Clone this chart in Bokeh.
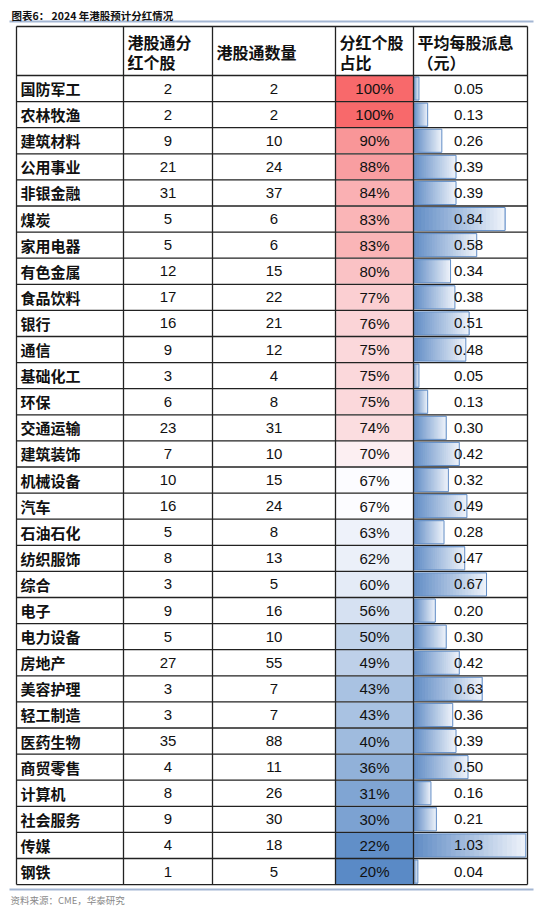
import numpy as np
from bokeh.plotting import figure
from bokeh.models import Range1d
from bokeh.core.properties import value
from bokeh.embed import file_html
from bokeh.resources import INLINE

# ---------------- data ----------------
industries = ["国防军工", "农林牧渔", "建筑材料", "公用事业", "非银金融", "煤炭", "家用电器",
              "有色金属", "食品饮料", "银行", "通信", "基础化工", "环保", "交通运输", "建筑装饰",
              "机械设备", "汽车", "石油石化", "纺织服饰", "综合", "电子", "电力设备", "房地产",
              "美容护理", "轻工制造", "医药生物", "商贸零售", "计算机", "社会服务", "传媒", "钢铁"]
div_count = [2, 2, 9, 21, 31, 5, 5, 12, 17, 16, 9, 3, 6, 23, 7, 10, 16, 5, 8, 3, 9, 5, 27,
             3, 3, 35, 4, 8, 9, 4, 1]
total_count = [2, 2, 10, 24, 37, 6, 6, 15, 22, 21, 12, 4, 8, 31, 10, 15, 24, 8, 13, 5, 16, 10, 55,
               7, 7, 88, 11, 26, 30, 18, 5]
pct = [100, 100, 90, 88, 84, 83, 83, 80, 77, 76, 75, 75, 75, 74, 70, 67, 67, 63, 62, 60, 56, 50, 49,
       43, 43, 40, 36, 31, 30, 22, 20]
avg_div = [0.05, 0.13, 0.26, 0.39, 0.39, 0.84, 0.58, 0.34, 0.38, 0.51, 0.48, 0.05, 0.13, 0.30, 0.42,
           0.32, 0.49, 0.28, 0.47, 0.67, 0.20, 0.30, 0.42, 0.63, 0.36, 0.39, 0.50, 0.16, 0.21, 1.03, 0.04]

headers = [["港股通分", "红个股"], ["港股通数量"], ["分红个股", "占比"], ["平均每股派息", "（元）"]]
title = "图表6：  2024 年港股预计分红情况"
source_note = "资料来源：CME，华泰研究"

# ---------------- layout ----------------
W, H = 550, 917
RH = 26.1              # row height (px)
ROW0 = 75              # top of first data row (px, page coords)
XB = [16, 123, 212, 335, 413, 527]   # column borders (page px)
PX_PER_UNIT = 109.0    # data bar scale


def py(pix):
    return (pix - ROW0) / RH


n = len(industries)
p = figure(width=W, height=H, output_backend="svg", toolbar_location=None,
           x_range=Range1d(0, W), y_range=Range1d(py(H), py(0)),
           min_border=0, outline_line_color=None, x_axis_type=None, y_axis_type=None)
p.grid.visible = False
p.background_fill_color = "white"
p.border_fill_color = "white"
p.extra_x_ranges = {"val": Range1d(-XB[4] / PX_PER_UNIT, (W - XB[4]) / PX_PER_UNIT)}

rows = np.arange(n)

# ---- 3-colour scale for percentage column ----
lo, mid, hi = min(pct), float(np.median(pct)), max(pct)
c_lo, c_mid, c_hi = np.array([90, 138, 198]), np.array([252, 252, 255]), np.array([248, 105, 107])


def scale_col(v):
    if v <= mid:
        t = (v - lo) / (mid - lo)
        c = c_lo + (c_mid - c_lo) * t
    else:
        t = (v - mid) / (hi - mid)
        c = c_mid + (c_hi - c_mid) * t
    return "#%02x%02x%02x" % tuple(int(round(x)) for x in c)


pct_colors = [scale_col(v) for v in pct]
p.quad(left=XB[3], right=XB[4], top=rows, bottom=rows + 1, fill_color=pct_colors,
       line_color="white", line_alpha=0.7, line_width=1)

# ---- gradient data bars (overlapping slices, no seams) ----
NS = 24
g0, g1 = np.array([99, 142, 198]), np.array([236, 241, 249])
bl, br, bt, bb, bc = [], [], [], [], []
for i, v in enumerate(avg_div):
    for k in range(NS):
        bl.append(v * k / NS)
        br.append(v)
        bt.append(i + 1.5 / RH)
        bb.append(i + 1 - 1.5 / RH)
        c = g0 + (g1 - g0) * (k / (NS - 1))
        bc.append("#%02x%02x%02x" % tuple(int(round(x)) for x in c))
p.quad(left=bl, right=br, top=bt, bottom=bb, fill_color=bc, line_color=None, x_range_name="val")
p.quad(left=0, right=avg_div, top=rows + 1.5 / RH, bottom=rows + 1 - 1.5 / RH,
       fill_color=None, line_color="#638EC6", line_width=1, x_range_name="val")

# ---- grid lines ----
hy = [py(26)] + list(range(0, n + 1))
p.segment(x0=XB[0], x1=XB[-1], y0=hy, y1=hy, line_color="#222222", line_width=1.3)
p.segment(x0=XB, x1=XB, y0=py(26), y1=n, line_color="#222222", line_width=1.3)

# ---- title and rules ----
p.segment(x0=9, x1=533, y0=[py(21), py(889)], y1=[py(21), py(889)], line_color="#A3B6D3", line_width=2)
p.text(x=[11], y=[py(15)], text=[title], text_font=value("Noto Sans CJK SC"), text_font_style="bold",
       text_font_size="10.5px", text_baseline="middle", text_align="left", text_color="#111111")
p.text(x=[10], y=[py(899)], text=[source_note], text_font=value("Noto Sans CJK SC"),
       text_font_size="9.5px", text_baseline="middle", text_align="left", text_color="#8a8a8a")

# ---- headers ----
hx, hyy, ht = [], [], []
for j, lines in enumerate(headers):
    x = XB[j + 1] + 4
    if len(lines) == 1:
        hx.append(x); hyy.append(py(51.5)); ht.append(lines[0])
    else:
        hx += [x, x]; hyy += [py(41.5), py(61.5)]; ht += lines
p.text(x=hx, y=hyy, text=ht, text_font=value("Noto Sans CJK SC"), text_font_style="bold",
       text_font_size="16px", text_baseline="middle", text_align="left", text_color="#111111")

# ---- cell texts ----
yc = rows + 0.5
p.text(x=XB[0] + 4, y=yc, text=industries, text_font=value("Noto Sans CJK SC"), text_font_style="bold",
       text_font_size="15px", text_baseline="middle", text_align="left", text_color="#111111")
num_style = dict(text_font=value("Liberation Sans"), text_font_size="15px", text_baseline="middle",
                 text_align="center", text_color="#111111")
p.text(x=(XB[1] + XB[2]) / 2, y=yc, text=[str(v) for v in div_count], **num_style)
p.text(x=(XB[2] + XB[3]) / 2, y=yc, text=[str(v) for v in total_count], **num_style)
p.text(x=(XB[3] + XB[4]) / 2, y=yc, text=[f"{v}%" for v in pct], **num_style)
p.text(x=(XB[4] + XB[5]) / 2 - 2, y=yc, text=[f"{v:.2f}" for v in avg_div], **num_style)

open("out.html", "w").write(file_html(p, INLINE))
